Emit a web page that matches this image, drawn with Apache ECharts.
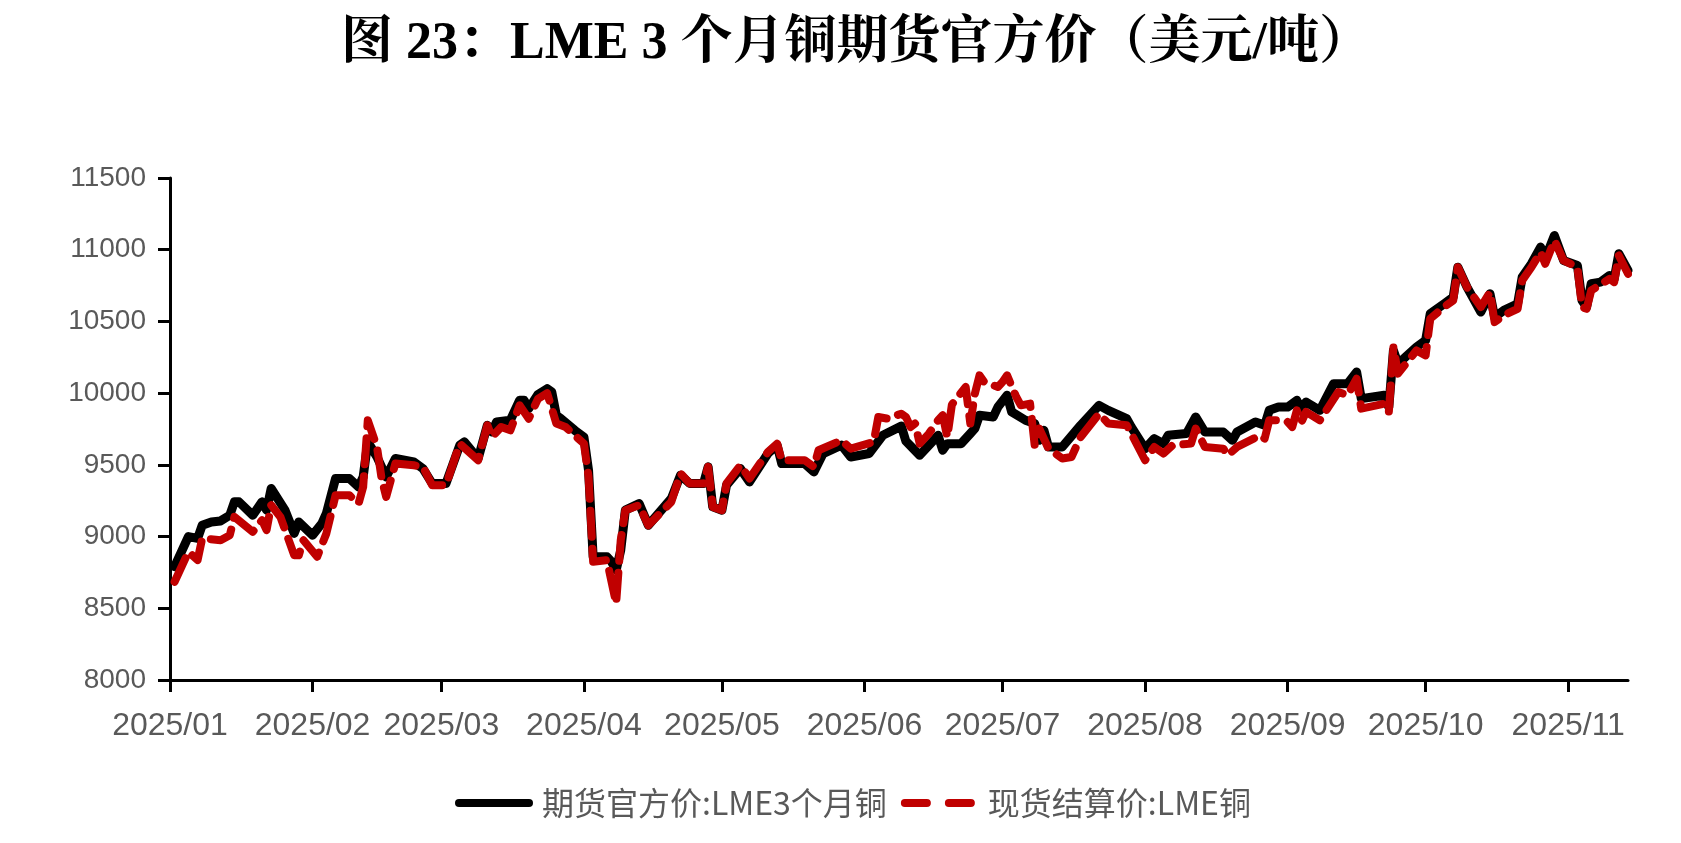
<!DOCTYPE html>
<html>
<head>
<meta charset="utf-8">
<title>LME 3个月铜期货官方价</title>
<script src="https://cdn.jsdelivr.net/npm/echarts@6/dist/echarts.min.js"></script>
<style>
  html, body { margin: 0; padding: 0; background: #fff; }
  #main { width: 1681px; height: 843px; }
</style>
</head>
<body>
<div id="main"></div>
<script>
// 期货官方价:LME3个月铜 (美元/吨)
var futDates = ['01-02','01-05','01-07','01-08','01-10','01-12','01-14','01-15','01-16','01-19','01-21','01-22','01-23','01-26','01-28','01-29',
  '02-01','02-03','02-04','02-06','02-09','02-11','02-12','02-13','02-15','02-17','02-19','02-23','02-25','02-27',
  '03-02','03-05','03-06','03-09','03-11','03-12','03-13','03-16','03-18','03-19','03-20','03-22','03-24','03-25','03-26','03-27','03-30',
  '04-01','04-02','04-03','04-06','04-07','04-08','04-09','04-10','04-13','04-15','04-20','04-22','04-24','04-27','04-28','04-29',
  '05-01','05-02','05-05','05-07','05-11','05-13','05-14','05-19','05-21','05-23','05-27','05-29',
  '06-02','06-05','06-09','06-10','06-13','06-16','06-17','06-18','06-19','06-22','06-24','06-25','06-26','06-29','06-30',
  '07-02','07-03','07-06','07-08','07-09','07-10','07-11','07-14','07-18','07-22','07-24','07-28','07-29',
  '08-01','08-03','08-05','08-06','08-10','08-12','08-14','08-18','08-20','08-21','08-25','08-27','08-28','08-30',
  '09-01','09-03','09-04','09-05','09-08','09-11','09-14','09-16','09-17','09-22','09-23','09-24','09-25','09-29',
  '10-01','10-02','10-05','10-07','10-08','10-10','10-13','10-15','10-16','10-18','10-21','10-22','10-24','10-26','10-27','10-29','10-31',
  '11-03','11-04','11-05','11-06','11-08','11-10','11-11','11-12','11-14'];
var futValues = [8790,9000,8987,9079,9102,9109,9149,9242,9242,9149,9242,9184,9335,9184,9022,9102,
  9010,9091,9161,9405,9405,9346,9416,9660,9555,9416,9544,9520,9474,9370,
  9370,9637,9660,9544,9776,9729,9799,9811,9950,9950,9892,9990,10031,10008,9846,9822,9741,
  9694,9462,8859,8859,8824,8766,8905,9184,9230,9079,9265,9428,9370,9370,9486,9207,
  9184,9358,9474,9381,9579,9637,9509,9509,9451,9579,9637,9555,
  9579,9706,9770,9665,9567,9671,9706,9602,9648,9648,9718,9753,9846,9834,9903,
  9985,9869,9811,9788,9671,9741,9625,9625,9776,9915,9880,9822,9764,
  9613,9683,9648,9706,9718,9834,9729,9729,9671,9729,9799,9776,9880,9903,
  9903,9950,9880,9938,9880,10066,10066,10147,9962,9985,9903,10298,10205,10321,
  10368,10554,10623,10670,10878,10739,10565,10693,10530,10577,10623,10809,10902,11018,10937,11099,10925,
  10890,10646,10600,10763,10774,10820,10797,10972,10855];

// 现货结算价:LME铜 (美元/吨)
var spotDates = ['01-02','01-05','01-07','01-08','01-12','01-14','01-15','01-19','01-21','01-22','01-23','01-25','01-28','01-29','01-30',
  '02-02','02-04','02-06','02-09','02-11','02-12','02-13','02-15','02-16','02-17','02-19','02-23','02-25','02-27',
  '03-02','03-05','03-09','03-11','03-12','03-14','03-16','03-18','03-20','03-22','03-24','03-26','03-28',
  '04-01','04-02','04-03','04-06','04-08','04-09','04-10','04-13','04-15','04-20','04-22','04-24','04-27','04-28','04-29',
  '05-01','05-02','05-05','05-07','05-11','05-13','05-14','05-19','05-21','05-22','05-27','05-29',
  '06-03','06-04','06-06','06-09','06-10','06-11','06-12','06-13','06-15','06-17','06-18','06-19','06-20','06-23','06-24','06-25','06-26','06-27','06-30',
  '07-01','07-02','07-04','07-05','07-07','07-08','07-09','07-11','07-14','07-16','07-18','07-22','07-24','07-28','07-29',
  '08-01','08-03','08-05','08-07','08-11','08-12','08-14','08-18','08-19','08-21','08-26','08-27','08-28','08-30',
  '09-01','09-02','09-03','09-04','09-05','09-08','09-12','09-14','09-16','09-17','09-22','09-23','09-24','09-25','09-29',
  '10-01','10-02','10-05','10-07','10-08','10-10','10-13','10-15','10-16','10-18','10-21','10-22','10-24','10-26','10-27','10-29','10-31',
  '11-03','11-04','11-05','11-06','11-10','11-11','11-12','11-14'];
var spotValues = [8685,8893,8836,8987,8975,9010,9137,9033,9114,9045,9219,9137,8870,8870,8975,
  8859,9022,9288,9288,9230,9346,9811,9625,9405,9277,9509,9497,9486,9358,
  9358,9648,9532,9776,9694,9764,9741,9915,9822,9960,10000,9788,9764,
  9648,9416,8824,8836,8534,8975,9184,9219,9079,9242,9440,9370,9370,9486,9207,
  9184,9370,9497,9405,9590,9648,9532,9532,9486,9602,9671,9613,
  9660,9834,9822,9857,9834,9764,9788,9648,9718,9811,9846,9694,9920,10043,9788,9997,10124,10078,10043,
  10078,10124,9973,9915,9927,9637,9753,9613,9544,9555,9694,9857,9788,9776,9718,
  9532,9625,9579,9637,9648,9753,9625,9613,9567,9625,9706,9683,9811,9811,
  9799,9764,9880,9799,9869,9811,10008,9985,10101,9892,9927,9869,10321,10136,10298,
  10263,10519,10600,10646,10878,10739,10600,10704,10495,10542,10588,10786,10878,10983,10902,11064,10925,
  10878,10600,10588,10716,10797,10774,10960,10832];

// y 轴刻度
var yMin = 8000, yMax = 11500, yStep = 500;

// x 轴: 2025-01-01 ~ 2025-11-14 每天一个类目
var days = [];
for (var t = Date.UTC(2025, 0, 1); t <= Date.UTC(2025, 10, 14); t += 86400000) {
    days.push(new Date(t).toISOString().slice(0, 10));
}

function pairs(dates, values) {
    return dates.map(function (d, i) { return ['2025-' + d, values[i]]; });
}
function isMonthStart(idx, value) {
    return value.slice(8) === '01';
}

var myChart = echarts.init(document.getElementById('main'));
myChart.setOption({
    animation: false,
    title: {
        text: '图 23：LME 3 个月铜期货官方价（美元/吨）',
        left: 336,
        top: 14,
        textStyle: {
            color: '#000',
            fontSize: 52,
            fontWeight: 'bold',
            fontFamily: "'Liberation Serif', 'Noto Serif CJK SC', 'Noto Sans CJK SC', serif"
        }
    },
    legend: {
        left: 450,
        top: 782,
        itemWidth: 70,
        itemHeight: 30,
        itemGap: 14,
        itemStyle: { opacity: 0 },   // 去掉图例中间的圆点
        lineStyle: { width: 8 },
        textStyle: {
            color: '#595959',
            fontSize: 32,
            fontFamily: "'Noto Sans CJK SC', sans-serif",
            padding: [0, 0, 0, 8]
        },
        data: [
            { name: '期货官方价:LME3个月铜' },
            { name: '现货结算价:LME铜', lineStyle: { type: [22, 22] } }
        ]
    },
    grid: {
        left: 170,
        right: 53,
        top: 178,
        bottom: 163
    },
    xAxis: {
        type: 'category',
        data: days,
        boundaryGap: false,
        axisLine: { lineStyle: { color: '#000', width: 3 } },
        axisTick: { interval: isMonthStart, length: 12, lineStyle: { color: '#000', width: 3 } },
        axisLabel: {
            interval: isMonthStart,
            color: '#595959',
            fontSize: 32,
            margin: 30,
            fontFamily: "'Liberation Sans', Arial, sans-serif",
            formatter: function (v) { return v.slice(0, 4) + '/' + v.slice(5, 7); }
        },
        splitLine: { show: false }
    },
    yAxis: {
        type: 'value',
        min: yMin,
        max: yMax,
        interval: yStep,
        axisLine: { show: true, lineStyle: { color: '#000', width: 3 } },
        axisTick: { show: true, length: 12, lineStyle: { color: '#000', width: 3 } },
        axisLabel: {
            color: '#595959',
            fontSize: 28,
            margin: 24,
            fontFamily: "'Liberation Sans', Arial, sans-serif",
            formatter: function (v) { return String(v); }
        },
        splitLine: { show: false }
    },
    series: [
        {
            name: '期货官方价:LME3个月铜',
            type: 'line',
            symbol: 'none',
            data: pairs(futDates, futValues),
            itemStyle: { color: '#000' },
            lineStyle: { color: '#000', width: 9, join: 'round', cap: 'round' }
        },
        {
            name: '现货结算价:LME铜',
            type: 'line',
            symbol: 'none',
            data: pairs(spotDates, spotValues),
            itemStyle: { color: '#C00000' },
            lineStyle: { color: '#C00000', width: 8, type: [26, 12], join: 'round', cap: 'round' }
        }
    ]
});
</script>
</body>
</html>
